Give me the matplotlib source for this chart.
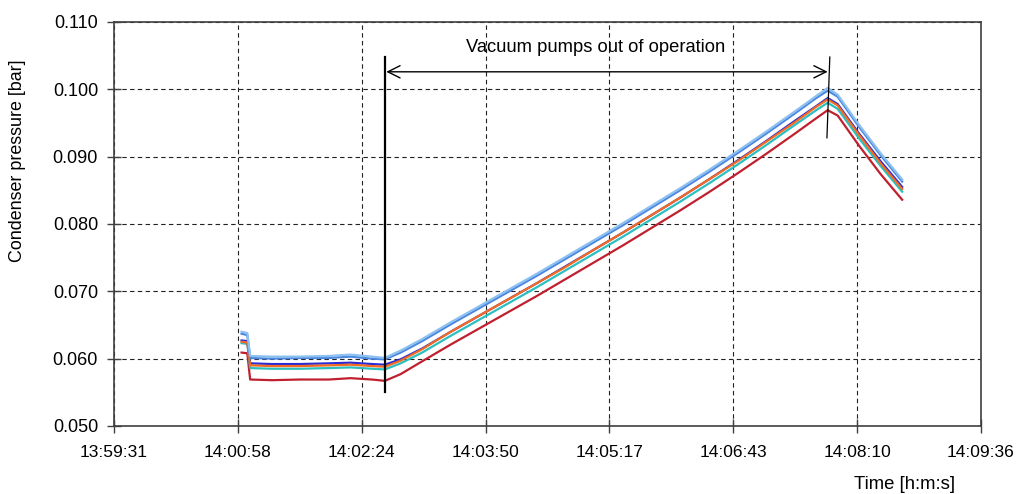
import matplotlib
matplotlib.use('Agg')
import matplotlib.pyplot as plt
import numpy as np

plt.rcParams['font.family'] = ['Liberation Sans', 'DejaVu Sans']

# time axis: seconds after 13:59:31
t = [89, 93, 95, 110, 130, 150, 165, 180, 189, 200, 215, 235, 255, 275, 295,
     315, 335, 355, 375, 395, 415, 435, 455, 475, 490, 498, 505, 520, 535, 550]

p_lightblue = [0.0640, 0.0638, 0.0604, 0.0603, 0.0603, 0.0604, 0.0606, 0.0603, 0.0601, 0.0612,
               0.0629, 0.0654, 0.0678, 0.0702, 0.0726, 0.0751, 0.0776, 0.0801, 0.0827, 0.0853,
               0.0880, 0.0908, 0.0937, 0.0967, 0.0990, 0.1002, 0.0992, 0.0947, 0.0905, 0.0866]
p_midblue = [0.0637, 0.0635, 0.0601, 0.0600, 0.0601, 0.0601, 0.0603, 0.0600, 0.0599, 0.0609,
             0.0626, 0.0651, 0.0675, 0.0699, 0.0723, 0.0748, 0.0773, 0.0798, 0.0824, 0.0850,
             0.0877, 0.0905, 0.0934, 0.0964, 0.0987, 0.0998, 0.0989, 0.0944, 0.0902, 0.0863]
p_blue = [0.0627, 0.0626, 0.0593, 0.0592, 0.0592, 0.0593, 0.0594, 0.0592, 0.0591, 0.0599,
          0.0615, 0.0640, 0.0664, 0.0688, 0.0712, 0.0737, 0.0762, 0.0787, 0.0813, 0.0839,
          0.0866, 0.0894, 0.0923, 0.0953, 0.0975, 0.0987, 0.0978, 0.0934, 0.0893, 0.0855]
p_orange = [0.0625, 0.0624, 0.0590, 0.0589, 0.0589, 0.0590, 0.0591, 0.0589, 0.0588, 0.0597,
            0.0614, 0.0640, 0.0664, 0.0688, 0.0712, 0.0736, 0.0762, 0.0787, 0.0813, 0.0839,
            0.0866, 0.0893, 0.0922, 0.0951, 0.0974, 0.0985, 0.0976, 0.0932, 0.0890, 0.0852]
p_teal = [0.0623, 0.0622, 0.0586, 0.0585, 0.0585, 0.0586, 0.0587, 0.0585, 0.0584, 0.0593,
          0.0609, 0.0634, 0.0658, 0.0682, 0.0706, 0.0731, 0.0756, 0.0781, 0.0807, 0.0833,
          0.0860, 0.0888, 0.0917, 0.0947, 0.0969, 0.0980, 0.0971, 0.0927, 0.0886, 0.0848]
p_red = [0.0609, 0.0608, 0.0569, 0.0568, 0.0569, 0.0569, 0.0571, 0.0569, 0.0567, 0.0577,
         0.0596, 0.0621, 0.0645, 0.0669, 0.0693, 0.0718, 0.0743, 0.0768, 0.0794, 0.0820,
         0.0847, 0.0875, 0.0904, 0.0934, 0.0957, 0.0969, 0.0961, 0.0916, 0.0874, 0.0836]

xtick_labels = ['13:59:31', '14:00:58', '14:02:24', '14:03:50',
                '14:05:17', '14:06:43', '14:08:10', '14:09:36']
t_span = 605          # 13:59:31 -> 14:09:36
t_pumps_off = 189
t_peak = 498

fig = plt.figure(figsize=(10.19, 4.94), dpi=100)
ax = fig.add_axes([0.1119, 0.1377, 0.8508, 0.8178])

series = [(p_red, '#c0202e'), (p_teal, '#2bbfbf'), (p_blue, '#2b2bd6'),
          (p_orange, '#f26b21'), (p_midblue, '#4b86e0'), (p_lightblue, '#8cc0f0')]
for vals, col in series:
    ax.plot(t, vals, color=col, lw=1.6, solid_joinstyle='round')

ax.set_xlim(0, t_span)
ax.set_ylim(0.050, 0.110)
ax.set_xticks(np.linspace(0, t_span, 8))
ax.set_xticklabels(xtick_labels)
ax.set_yticks(np.arange(0.050, 0.1101, 0.010))
ax.set_yticklabels(['%.3f' % v for v in np.arange(0.050, 0.1101, 0.010)])
ax.tick_params(direction='inout', length=10, width=1, color='#404040')
ax.tick_params(axis='y', labelsize=13, pad=6.5)
ax.tick_params(axis='x', labelsize=12.5, pad=9)
for s in ax.spines.values():
    s.set_color('#404040')
    s.set_linewidth(1.2)
ax.grid(True, color='#222222', lw=0.8, ls=(0, (4, 3)))

# annotations
ax.plot([t_pumps_off, t_pumps_off], [0.0550, 0.1048], color='black', lw=1.6)
ax.plot([t_peak + 1.5, t_peak - 0.5], [0.1048, 0.0928], color='black', lw=0.9)
ax.annotate('', xy=(t_pumps_off + 1, 0.1026), xytext=(t_peak, 0.1026),
            arrowprops=dict(arrowstyle='<->', lw=1, color='black',
                            mutation_scale=22, shrinkA=0, shrinkB=0))
ax.text(336, 0.1062, 'Vacuum pumps out of operation', ha='center', va='center', fontsize=13.2)

fig.text(18 / 1019, 1 - 161 / 494, 'Condenser pressure [bar]', rotation=90,
         ha='center', va='center', fontsize=12.9)
fig.text(905 / 1019, 1 - 484 / 494, 'Time [h:m:s]', ha='center', va='center', fontsize=13.3)

fig.savefig('out.png', dpi=100)
